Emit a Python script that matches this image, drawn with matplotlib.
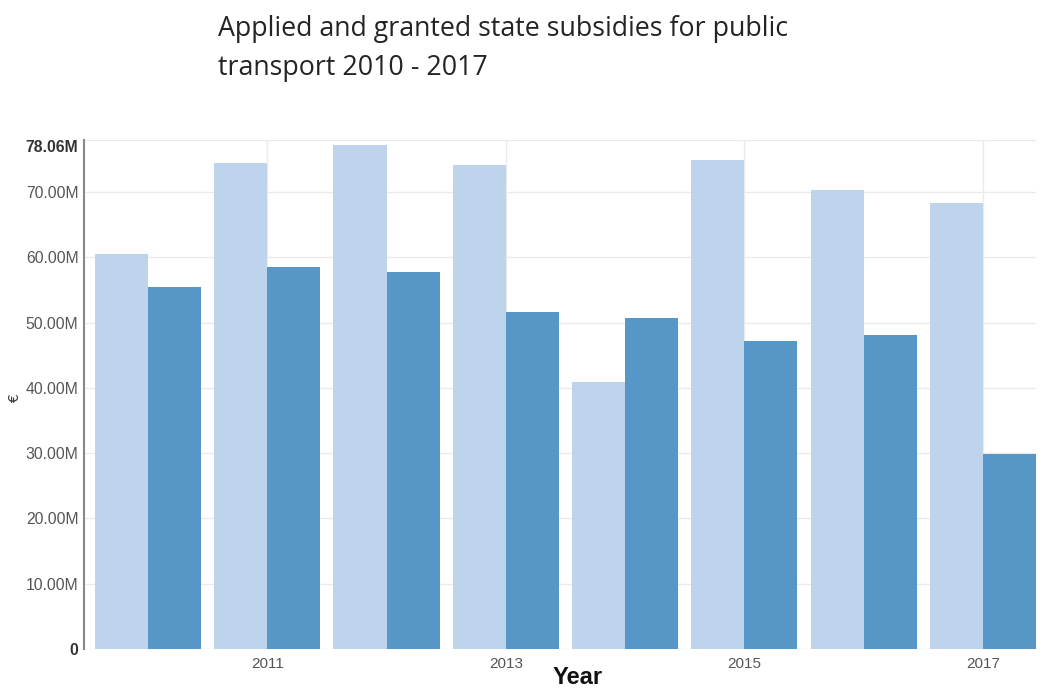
import matplotlib
matplotlib.use("Agg")
import matplotlib.pyplot as plt
import numpy as np

# Data (millions of euro)
years = [2010, 2011, 2012, 2013, 2014, 2015, 2016, 2017]
applied = [60.5, 74.4, 77.2, 74.2, 40.9, 74.9, 70.25, 68.4]
granted = [55.5, 58.6, 57.8, 51.7, 50.7, 47.2, 48.1, 29.85]
y_ticks = [0, 10, 20, 30, 40, 50, 60, 70, 78.06]
y_tick_labels = ["0", "10.00M", "20.00M", "30.00M", "40.00M", "50.00M",
                 "60.00M", "70.00M", "78.06M"]
x_tick_years = [2011, 2013, 2015, 2017]

COLOR_APPLIED = "#bed3ec"
COLOR_GRANTED = "#5697c7"
GRID = "#ebebeb"
TICK_TEXT = "#555555"

fig = plt.figure(figsize=(10.49, 6.90), dpi=100, facecolor="white")
ax = fig.add_axes([0.0801, 0.0594, 0.9075, 0.7384])

x = np.arange(len(years))
w = 0.445
ax.bar(x - w / 2, applied, width=w, color=COLOR_APPLIED, zorder=2, linewidth=0)
ax.bar(x + w / 2, granted, width=w, color=COLOR_GRANTED, zorder=2, linewidth=0)

ax.set_xlim(-0.536, 7.445)
ax.set_ylim(0, 78.06)

ax.set_yticks(y_ticks)
ax.set_yticklabels(y_tick_labels)
for lbl in ax.get_yticklabels():
    lbl.set_family("Liberation Sans")
    lbl.set_fontsize(11.3)
    lbl.set_color(TICK_TEXT)
for i in (0, len(y_ticks) - 1):
    ax.get_yticklabels()[i].set_fontweight("bold")
    ax.get_yticklabels()[i].set_color("#333333")
# the top label sits just below the axis end in the original
ax.get_yticklabels()[-1].set_verticalalignment("top")
ax.get_yticklabels()[-1].set_y(78.06)

ax.set_xticks([years.index(y) for y in x_tick_years])
ax.set_xticklabels([str(y) for y in x_tick_years], family="Liberation Sans",
                   fontsize=11, color=TICK_TEXT)
ax.tick_params(length=0, pad=4)
ax.tick_params(axis="x", pad=6)

ax.grid(True, color=GRID, linewidth=1, zorder=0)
ax.set_axisbelow(True)
for s in ("top", "right", "bottom"):
    ax.spines[s].set_visible(False)
ax.spines["left"].set_color("#888888")
ax.spines["left"].set_linewidth(1.5)

fig.text(0.551, 0.0174, "Year", ha="center", va="center", fontsize=17,
         fontweight="bold", family="Liberation Sans", color="#111111")
fig.text(0.014, 0.423, "€", ha="center", va="center", rotation=90,
         fontsize=10, color="#333333")

fig.text(0.208, 0.978, "Applied and granted state subsidies for public\ntransport 2010 - 2017",
         ha="left", va="top", fontsize=19.3, family="Open Sans", color="#252423",
         linespacing=1.5)

fig.savefig("out.png", dpi=100, facecolor="white")
